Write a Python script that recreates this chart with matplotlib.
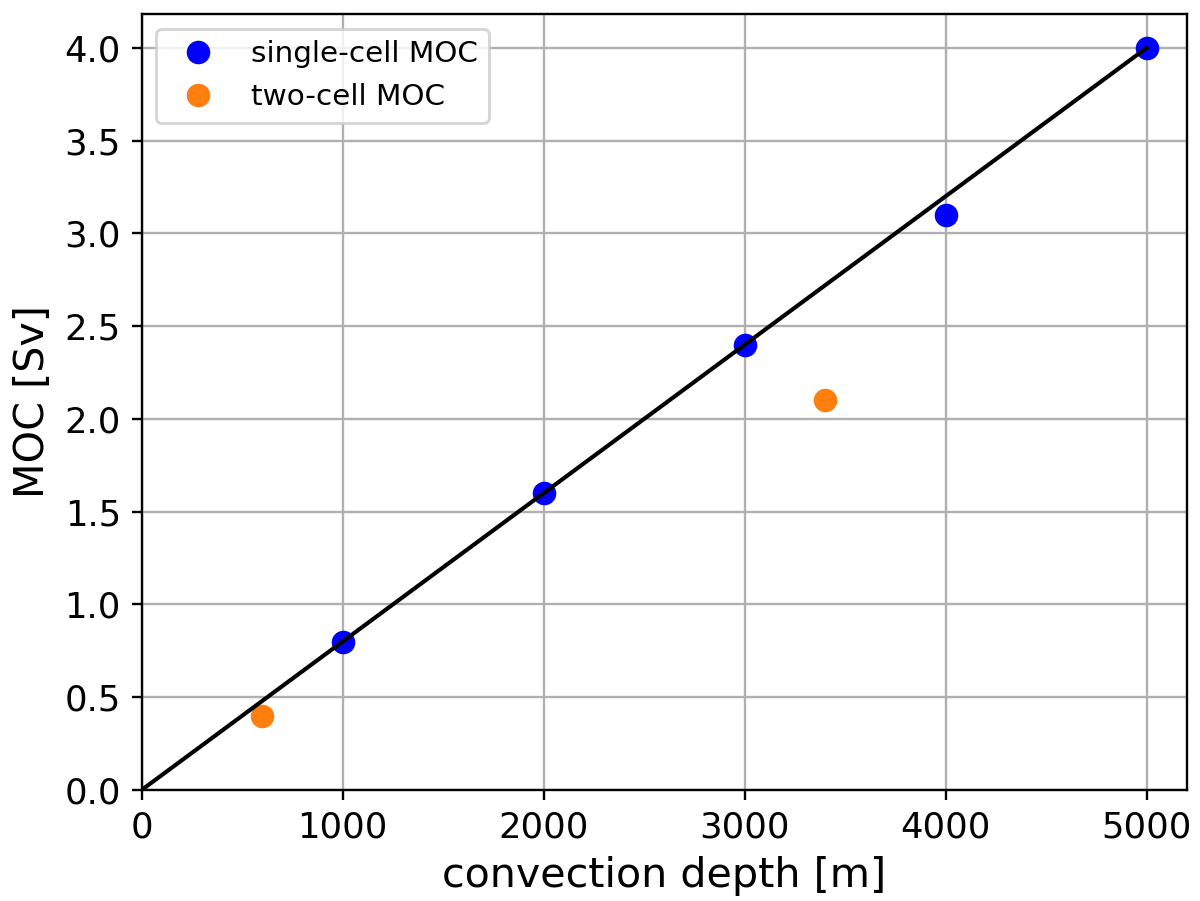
import numpy as np
import matplotlib
matplotlib.use('Agg')
import matplotlib.pyplot as plt

# data
depth_single = [1000, 2000, 3000, 4000, 5000]
moc_single = [0.8, 1.6, 2.4, 3.1, 4.0]
depth_two = [600, 3400]
moc_two = [0.4, 2.1]
fit_depth = [0, 5000]
fit_moc = [0.0, 4.0]

dpi = 212
fig, ax = plt.subplots(figsize=(1200/dpi, 901/dpi), dpi=dpi)

ax.plot(depth_single, moc_single, 'o', color='b', markersize=7, label='single-cell MOC')
ax.plot(depth_two, moc_two, 'o', color='C1', markersize=7, label='two-cell MOC')
ax.plot(fit_depth, fit_moc, 'k-', linewidth=1.4)

ax.set_xlim([0, 5200])
ax.set_ylim([0, 4.183])
ax.set_xticks([0, 1000, 2000, 3000, 4000, 5000])
ax.set_yticks(np.arange(0, 4.01, 0.5))
ax.grid(True)
ax.tick_params(labelsize=12)
ax.set_xlabel('convection depth [m]', fontsize=14)
ax.set_ylabel('MOC [Sv]', fontsize=14)
ax.legend(loc='upper left', fontsize=10)

plt.subplots_adjust(left=0.118, right=0.989, top=0.9845, bottom=0.1232)
fig.savefig('out.png', dpi=dpi)
